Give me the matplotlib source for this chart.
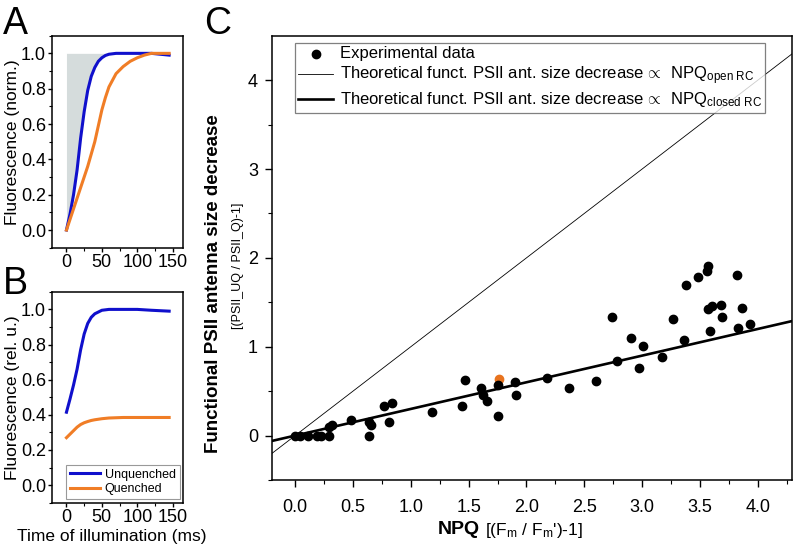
#Fluorescence induction and functional PSII antenna size vs NPQ

import numpy as np
import matplotlib.pyplot as plt

plt.rcParams['font.family'] = ['Liberation Sans', 'DejaVu Sans']
plt.rcParams['mathtext.fontset'] = 'custom'
plt.rcParams['mathtext.rm'] = 'Liberation Sans'
plt.rcParams['mathtext.it'] = 'Liberation Sans:italic'
plt.rcParams['mathtext.bf'] = 'Liberation Sans:bold'

#Panel A data (normalised induction curves)
t_a = [0, 5, 10, 15, 20, 25, 30, 35, 40, 45, 50, 55, 60, 70, 80, 90, 100, 110, 120, 145]
a_unq = [0.0, 0.09, 0.20, 0.34, 0.52, 0.67, 0.79, 0.87, 0.92, 0.955, 0.975, 0.988, 0.995, 1.0, 1.0, 1.0, 1.0, 1.0, 1.0, 0.99]
a_q = [0.0, 0.06, 0.12, 0.18, 0.24, 0.30, 0.36, 0.43, 0.50, 0.59, 0.68, 0.75, 0.81, 0.885, 0.925, 0.955, 0.975, 0.99, 1.0, 1.0]

#Panel B data (relative units)
t_b = [0, 5, 10, 15, 20, 25, 30, 35, 40, 50, 60, 80, 100, 120, 145]
b_unq = [0.415, 0.49, 0.57, 0.66, 0.77, 0.86, 0.92, 0.955, 0.975, 0.995, 1.0, 1.0, 1.0, 0.995, 0.99]
b_q = [0.27, 0.29, 0.31, 0.33, 0.345, 0.355, 0.362, 0.368, 0.372, 0.378, 0.382, 0.385, 0.385, 0.385, 0.385]

#Panel C data
npq = [0.0, 0.04, 0.11, 0.19, 0.22, 0.29, 0.29, 0.32, 0.48, 0.64, 0.66, 0.64, 0.77, 0.84, 0.81,
       1.18, 1.44, 1.47, 1.61, 1.62, 1.66, 1.75, 1.75, 1.90, 1.91, 2.18, 2.37, 2.60, 2.74, 2.78,
       2.90, 2.97, 3.01, 3.17, 3.27, 3.36, 3.38, 3.48, 3.56, 3.57, 3.57, 3.60, 3.59, 3.68, 3.69,
       3.82, 3.83, 3.86, 3.93]
decrease = [0.0, 0.0, 0.0, 0.0, 0.0, 0.0, 0.10, 0.12, 0.18, 0.15, 0.12, 0.0, 0.33, 0.37, 0.15,
            0.26, 0.33, 0.63, 0.53, 0.46, 0.39, 0.57, 0.22, 0.60, 0.46, 0.65, 0.54, 0.61, 1.33, 0.84,
            1.10, 0.76, 1.01, 0.88, 1.31, 1.08, 1.70, 1.78, 1.85, 1.91, 1.43, 1.46, 1.18, 1.47, 1.33,
            1.81, 1.21, 1.44, 1.26]
highlight = [1.76, 0.64]
slope_open = 1.0
slope_closed = 0.3

blue = '#1010cc'
orange = '#f07d26'

fig = plt.figure(figsize=(7.96, 5.55), dpi=100)
axA = fig.add_axes([0.0657, 0.5537, 0.1646, 0.382])
axB = fig.add_axes([0.0657, 0.0942, 0.1646, 0.380])
axC = fig.add_axes([0.3417, 0.1351, 0.6539, 0.8005])

for ax in (axA, axB, axC):
    for s in ax.spines.values():
        s.set_linewidth(1.1)
    ax.tick_params(which='major', direction='out', length=3, width=1.0, pad=1.5, labelsize=13)
    ax.tick_params(which='minor', direction='out', length=2, width=0.8)

#Panel A
axA.fill_between(t_a[:14], a_unq[:14], 1.0, color='#d5dcdc', lw=0)
axA.plot(t_a, a_unq, color=blue, lw=2.2)
axA.plot(t_a, a_q, color=orange, lw=2.2)
axA.set_xlim(-20, 165)
axA.set_ylim(-0.1, 1.1)
axA.set_xticks([0, 50, 100, 150])
axA.set_xticks([25, 75, 125], minor=True)
axA.set_yticks([0.0, 0.2, 0.4, 0.6, 0.8, 1.0])
axA.set_yticks(np.arange(-0.1, 1.11, 0.1), minor=True)
axA.set_ylabel('Fluorescence (norm.)', fontsize=12.5)
axA.yaxis.set_label_coords(-0.245, 0.5)

#Panel B
axB.plot(t_b, b_unq, color=blue, lw=2.2, label='Unquenched')
axB.plot(t_b, b_q, color=orange, lw=2.2, label='Quenched')
axB.set_xlim(-20, 165)
axB.set_ylim(-0.1, 1.1)
axB.set_xticks([0, 50, 100, 150])
axB.set_xticks([25, 75, 125], minor=True)
axB.set_yticks([0.0, 0.2, 0.4, 0.6, 0.8, 1.0])
axB.set_yticks(np.arange(-0.1, 1.11, 0.1), minor=True)
axB.set_ylabel('Fluorescence (rel. u.)', fontsize=12.5)
axB.yaxis.set_label_coords(-0.245, 0.5)
axB.set_xlabel('Time of illumination (ms)', fontsize=12.5)
axB.xaxis.set_label_coords(0.45, -0.125)
legB = axB.legend(loc='lower right', fontsize=9, frameon=True, fancybox=False,
                  handlelength=2.4, handletextpad=0.4, borderpad=0.3, labelspacing=0.2,
                  borderaxespad=0.3)
legB.get_frame().set_edgecolor('#808080')
legB.get_frame().set_linewidth(0.8)

#Panel C
xl = np.array([-0.2, 4.3])
axC.scatter(npq, decrease, s=36, color='black', zorder=3, label='Experimental data')
axC.scatter([highlight[0]], [highlight[1]], s=36, color='#e8731e', zorder=2)
axC.plot(xl, slope_open * xl, color='black', lw=0.6,
         label=r'Theoretical funct. PSII ant. size decrease$\,\propto\,$ NPQ$_{\mathrm{open\ RC}}$')
axC.plot(xl, slope_closed * xl, color='black', lw=1.9,
         label=r'Theoretical funct. PSII ant. size decrease$\,\propto\,$ NPQ$_{\mathrm{closed\ RC}}$')
axC.set_xlim(-0.2, 4.3)
axC.set_ylim(-0.5, 4.5)
axC.set_xticks([0.0, 0.5, 1.0, 1.5, 2.0, 2.5, 3.0, 3.5, 4.0])
axC.set_xticklabels(['0.0', '0.5', '1.0', '1.5', '2.0', '2.5', '3.0', '3.5', '4.0'])
axC.set_xticks(np.arange(0.25, 4.3, 0.5), minor=True)
axC.set_yticks([0, 1, 2, 3, 4])
axC.set_yticks([-0.5, 0.5, 1.5, 2.5, 3.5], minor=True)
axC.tick_params(which='major', length=5, pad=9)
axC.tick_params(which='minor', length=3)
axC.tick_params(axis='y', which='major', pad=5)
legC = axC.legend(loc='upper left', bbox_to_anchor=(0.044, 0.984), borderaxespad=0,
                  fontsize=12, frameon=True, fancybox=False, handlelength=2.1,
                  handletextpad=0.4, borderpad=0.2, labelspacing=0.2, scatterpoints=1)
legC.get_frame().set_edgecolor('#606060')
legC.get_frame().set_linewidth(0.9)

fig.text(214 / 796, 1 - 284 / 555, 'Functional PSII antenna size decrease', rotation=90,
         ha='center', va='center', fontsize=13.5, fontweight='bold')
fig.text(238 / 796, 1 - 266 / 555, '[(PSII_UQ / PSII_Q)-1]', rotation=90,
         ha='center', va='center', fontsize=9)
fig.text(480 / 796, 1 - 530 / 555, 'NPQ', ha='right', va='center', fontsize=14, fontweight='bold')
fig.text(485 / 796, 1 - 530 / 555, "[(F$_\\mathrm{m}$ / F$_\\mathrm{m}$')-1]", ha='left', va='center',
         fontsize=12.5)

#Panel letters
fig.text(3 / 796, 1 - 6 / 555, 'A', ha='left', va='top', fontsize=27)
fig.text(3 / 796, 1 - 266 / 555, 'B', ha='left', va='top', fontsize=27)
fig.text(204 / 796, 1 - 6 / 555, 'C', ha='left', va='top', fontsize=27)

plt.savefig('out.png', dpi=100)
